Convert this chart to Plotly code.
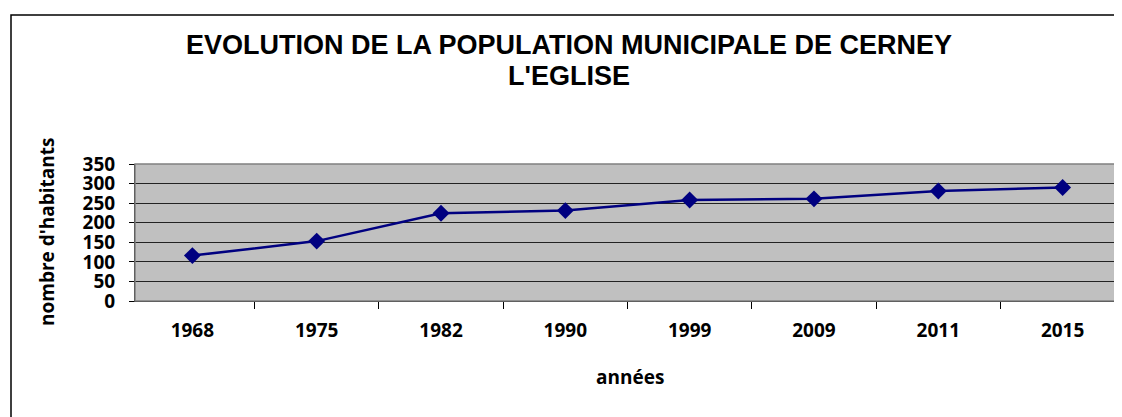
import plotly.graph_objects as go

annees = ["1968", "1975", "1982", "1990", "1999", "2009", "2011", "2015"]
habitants = [116, 153, 224, 231, 258, 261, 281, 290]
y_ticks = [0, 50, 100, 150, 200, 250, 300, 350]

title_l1 = "EVOLUTION DE LA POPULATION MUNICIPALE DE CERNEY"
title_l2 = "L'EGLISE"

# page offset (body margin of the html page)
OFF = 8
W, H = 1122 - OFF, 417 - OFF
# plot area in page pixels
PL, PR, PT, PB = 135, 1120, 164, 301
L, R, T, B = PL - OFF, W - (PR - OFF), PT - OFF, H - (PB - OFF)
pw, ph = W - L - R, H - T - B


def px(x):
    return (x - OFF - L) / pw


def py(y):
    return (H - B - (y - OFF)) / ph


fig = go.Figure()
fig.add_trace(go.Scatter(
    x=annees, y=habitants, mode="lines+markers",
    line=dict(color="#000080", width=2.5),
    marker=dict(symbol="diamond", size=13, color="#000080"),
    showlegend=False, hoverinfo="x+y",
))

tick_font = dict(family="Open Sans", size=19, color="black", weight="bold")

fig.update_layout(
    width=W, height=H,
    margin=dict(l=L, r=R, t=T, b=B),
    paper_bgcolor="white",
    plot_bgcolor="#C0C0C0",
    xaxis=dict(
        type="category", tickson="boundaries", ticks="outside", ticklen=7,
        tickcolor="black", showgrid=False, showline=True, linecolor="black",
        linewidth=1, zeroline=False, ticklabelstandoff=12,
        tickfont=tick_font, fixedrange=True,
    ),
    yaxis=dict(
        range=[0, 350], tickvals=y_ticks, ticks="outside", ticklen=5,
        tickcolor="black", showgrid=True, gridcolor="#222222", gridwidth=1,
        showline=True, linecolor="black", linewidth=1, zeroline=False,
        ticklabelstandoff=10, tickfont=tick_font, fixedrange=True,
    ),
    shapes=[
        dict(type="rect", xref="paper", yref="paper",
             x0=0, x1=1, y0=0, y1=1, line=dict(color="#808080", width=1.5)),
        dict(type="rect", xref="paper", yref="paper",
             x0=px(11), x1=px(1140), y0=py(440), y1=py(15),
             line=dict(color="black", width=1.5), layer="below"),
    ],
    annotations=[
        dict(text=title_l1, xref="paper", yref="paper", x=px(569), y=py(45),
             showarrow=False, xanchor="center", yanchor="middle",
             font=dict(family="Liberation Sans", size=27, color="black", weight="bold")),
        dict(text=title_l2, xref="paper", yref="paper", x=px(569), y=py(76),
             showarrow=False, xanchor="center", yanchor="middle",
             font=dict(family="Liberation Sans", size=27, color="black", weight="bold")),
        dict(text="nombre d'habitants", xref="paper", yref="paper", x=px(47), y=py(232),
             showarrow=False, xanchor="center", yanchor="middle", textangle=-90,
             font=dict(family="Open Sans", size=19, color="black", weight="bold")),
        dict(text="années", xref="paper", yref="paper", x=px(630), y=py(377),
             showarrow=False, xanchor="center", yanchor="middle",
             font=dict(family="Open Sans", size=19, color="black", weight="bold")),
    ],
)

fig.write_html("out.html")
